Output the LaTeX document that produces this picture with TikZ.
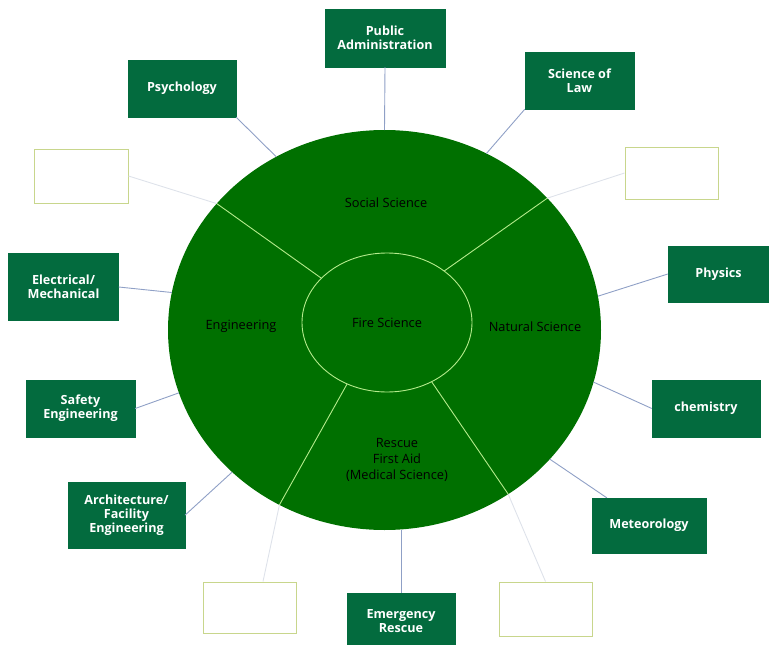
\documentclass[tikz,border=0pt]{standalone}
\usepackage{fontspec}
\setmainfont{Open Sans}
\usepackage{tikz}
\usetikzlibrary{shapes.geometric}

\definecolor{boxgreen}{RGB}{3,107,62}
\definecolor{ringgreen}{RGB}{0,112,0}
\definecolor{divline}{RGB}{180,235,140}
\definecolor{linkblue}{RGB}{143,160,198}
\definecolor{faintgray}{RGB}{222,226,234}
\definecolor{emptyedge}{RGB}{200,214,140}

\begin{document}
\begin{tikzpicture}
  [
    x=1pt, y=-1pt,
    topic/.style={rectangle, draw=boxgreen, fill=boxgreen, text=white, align=center,
      inner sep=0pt, font=\bfseries\fontsize{12.6}{14}\selectfont},
    blank/.style={rectangle, draw=emptyedge, line width=1pt, fill=white, inner sep=0pt},
    area/.style={align=center, text=black, font=\fontsize{12.8}{16}\selectfont},
    ring/.style={ellipse, fill=ringgreen, inner sep=0pt, outer sep=0pt},
    link/.style={draw=linkblue, line width=0.9pt},
    faint/.style={draw=faintgray, line width=0.9pt},
    divider/.style={draw=divline, line width=0.9pt}
    ]

  \useasboundingbox (0,0) rectangle (769,645);

  % the two rings
  \node (outer) [ring, minimum width=433pt, minimum height=400pt] at (384.5,330) {};
  \node (fire) [ring, draw=divline, line width=0.9pt, minimum width=170pt, minimum height=139pt,
    area] at (387,322.5) {Fire Science};

  \draw [divider] (fire.146) -- (outer.143.5);
  \draw [divider] (fire.42.7) -- (outer.39.6);
  \draw [divider] (fire.237.4) -- (outer.239);
  \draw [divider] (fire.307) -- (outer.307);

  \node (soc) [area] at (386,203) {Social Science};
  \node (eng) [area] at (241,326) {Engineering};
  \node (nat) [area] at (535,327) {Natural Science};
  \node (res) [area] at (397,460) {Rescue\\First Aid\\(Medical Science)};

  % subject boxes
  \node (pub) [topic, minimum width=120pt, minimum height=58pt] at (385,38) {Public\\Administration};
  \node (psy) [topic, minimum width=108pt, minimum height=57pt] at (182,88.5) {Psychology};
  \node (law) [topic, minimum width=109pt, minimum height=57pt] at (579.5,80.5) {Science of\\Law};
  \node (elec) [topic, minimum width=110pt, minimum height=67pt] at (63.5,287) {Electrical/\\Mechanical};
  \node (phys) [topic, minimum width=101pt, minimum height=56pt] at (718.5,274) {Physics};
  \node (safe) [topic, minimum width=109pt, minimum height=57pt] at (80.5,408.5) {Safety\\Engineering};
  \node (chem) [topic, minimum width=108pt, minimum height=57pt] at (706,408.5) {chemistry};
  \node (arch) [topic, minimum width=117pt, minimum height=66pt] at (126.5,515) {Architecture/\\Facility\\Engineering};
  \node (met) [topic, minimum width=114pt, minimum height=55pt] at (649,525.5) {Meteorology};
  \node (emer) [topic, minimum width=108pt, minimum height=56pt] at (401,621) {Emergency\\Rescue};

  % empty boxes
  \node (ule) [blank, minimum width=94pt, minimum height=54pt] at (81,176) {};
  \node (ure) [blank, minimum width=93pt, minimum height=52pt] at (671.5,173) {};
  \node (ble) [blank, minimum width=93pt, minimum height=51pt] at (249.5,607.5) {};
  \node (bre) [blank, minimum width=93pt, minimum height=54pt] at (545.5,609) {};

  % connectors
  \draw [link] (pub.south) -- (outer.north);
  \draw [link] (psy.south east) -- (outer.122);
  \draw [link] (law.south west) -- (outer.60);
  \draw [link] (elec.east) -- (outer.170.5);
  \draw [link] (phys.west) -- (outer.9.3);
  \draw [link] (safe.east) -- (outer.197.4);
  \draw [link] (chem.west) -- (outer.346.6);
  \draw [link] (arch.east) -- (outer.223.2);
  \draw [link] ([xshift=15pt]met.north west) -- (outer.322.8);
  \draw [link] (emer.north) -- (emer.north |- outer.south);
  \draw [faint] (ule.east) -- (outer.143.5);
  \draw [faint] (ure.west) -- (outer.39.6);
  \draw [faint] ([xshift=13.5pt]ble.north) -- (outer.239);
  \draw [faint] (bre.north) -- (outer.307);
\end{tikzpicture}
\end{document}
